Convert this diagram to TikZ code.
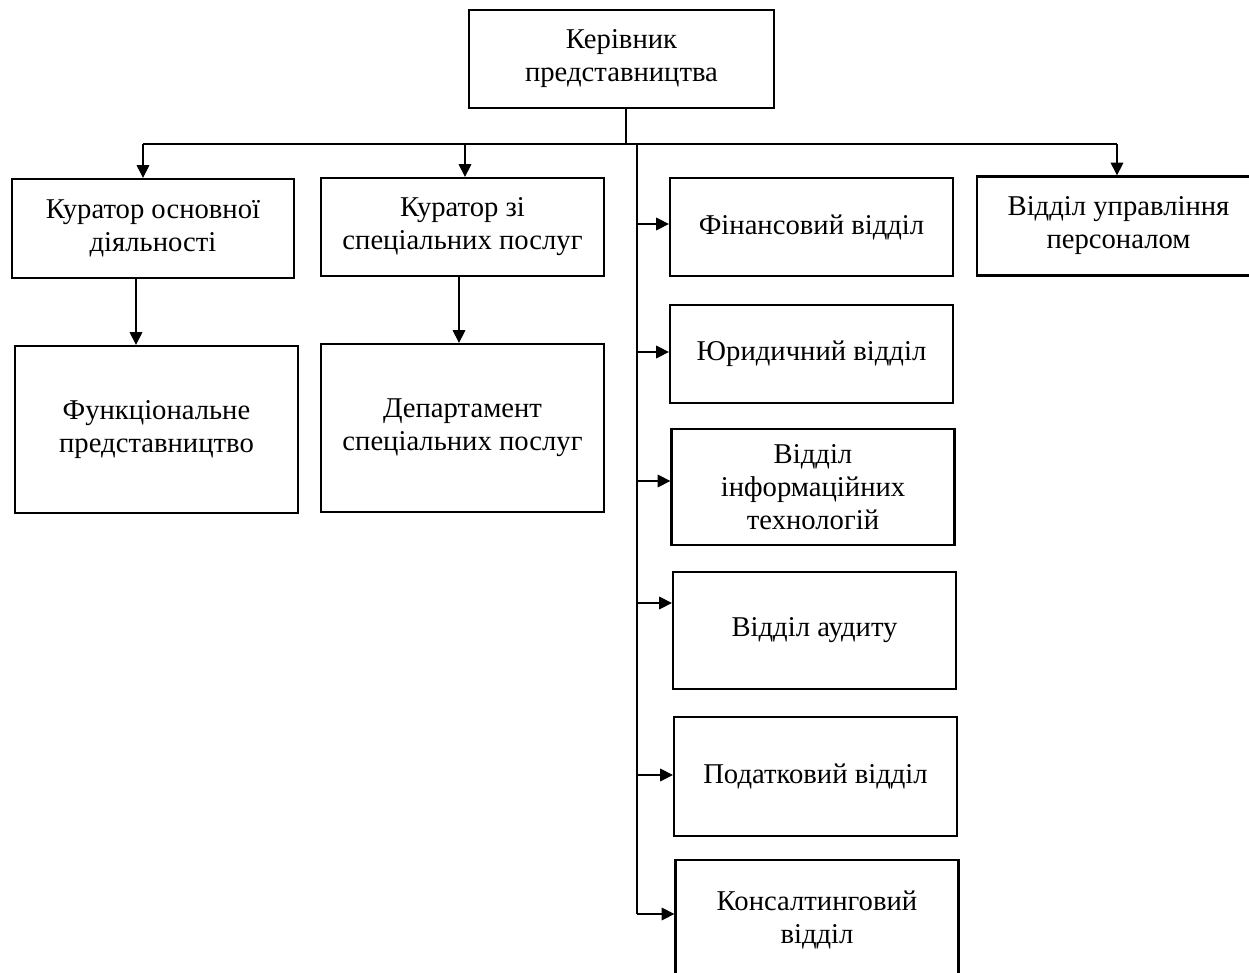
\documentclass[tikz,border=0pt]{standalone}
\usepackage{fontspec}
\setmainfont{Liberation Serif}
\usetikzlibrary{arrows.meta}
\begin{document}
\begin{tikzpicture}[x=0.75pt,y=-0.75pt,
  box/.style={draw, line width=1.7pt, align=center, inner sep=2pt,
    font=\fontsize{21.5pt}{24.8pt}\selectfont,
    execute at begin node={\vspace*{7pt}}},
  sz/.style 2 args={minimum width=#1*0.75pt, minimum height=#2*0.75pt},
  conn/.style={line width=0.8pt},
  arr/.style={conn,-{Triangle[length=9.5pt,width=9.5pt]}}]
\useasboundingbox (0,0) rectangle (1249,973);
\clip (0,0) rectangle (1249,973);

\node[box, sz={305}{98}] (head) at (621.5,59) {Керівник\\представництва};
\node[box, sz={282}{99}] (cur1) at (153,228.5) {Куратор основної\\діяльності};
\node[box, sz={283}{98}] (cur2) at (462.5,227) {Куратор зі\\спеціальних послуг};
\node[box, sz={283}{167}] (func) at (156.5,429.5) {Функціональне\\представництво};
\node[box, sz={283}{168}] (dep) at (462.5,428) {Департамент\\спеціальних послуг};
\node[box, sz={283}{98}] (fin) at (811.5,227) {Фінансовий відділ};
\node[box, sz={283}{98}] (jur) at (811.5,354) {Юридичний відділ};
\node[box, sz={283}{116}] (it) at (813,487) {Відділ\\інформаційних\\технологій};
\node[box, sz={283}{117}] (aud) at (814.5,630.5) {Відділ аудиту};
\node[box, sz={283}{119}] (tax) at (815.5,776.5) {Податковий відділ};
\node[box, sz={283}{120}] (cons) at (817,920) {Консалтинговий\\відділ};
\node[box, sz={283}{99}] (hr) at (1118.5,226) {Відділ управління\\персоналом};

\coordinate (bus) at (626,144);
\coordinate (busL) at (143,144);
\coordinate (busC) at (465,144);
\coordinate (busR) at (1117,144);
\coordinate (trT) at (637,144);
\coordinate (trB) at (637,914);
\coordinate (d1) at (136,300);
\coordinate (d2) at (459,300);
\coordinate (a1) at (637,224);
\coordinate (a2) at (637,352);
\coordinate (a3) at (637,481);
\coordinate (a4) at (637,603);
\coordinate (a5) at (637,775);

\draw[conn] (head.south -| bus) -- (bus);
\draw[conn] (busL) -- (busR);
\draw[arr] (busL) -- (busL |- cur1.north);
\draw[arr] (busC) -- (busC |- cur2.north);
\draw[arr] (busR) -- (busR |- hr.north);
\draw[arr] (cur1.south -| d1) -- (func.north -| d1);
\draw[arr] (cur2.south -| d2) -- (dep.north -| d2);
\draw[conn] (trT) -- (trB);
\draw[arr] (a1) -- (a1 -| fin.west);
\draw[arr] (a2) -- (a2 -| jur.west);
\draw[arr] (a3) -- (a3 -| it.west);
\draw[arr] (a4) -- (a4 -| aud.west);
\draw[arr] (a5) -- (a5 -| tax.west);
\draw[arr] (trB) -- (trB -| cons.west);
\end{tikzpicture}
\end{document}
